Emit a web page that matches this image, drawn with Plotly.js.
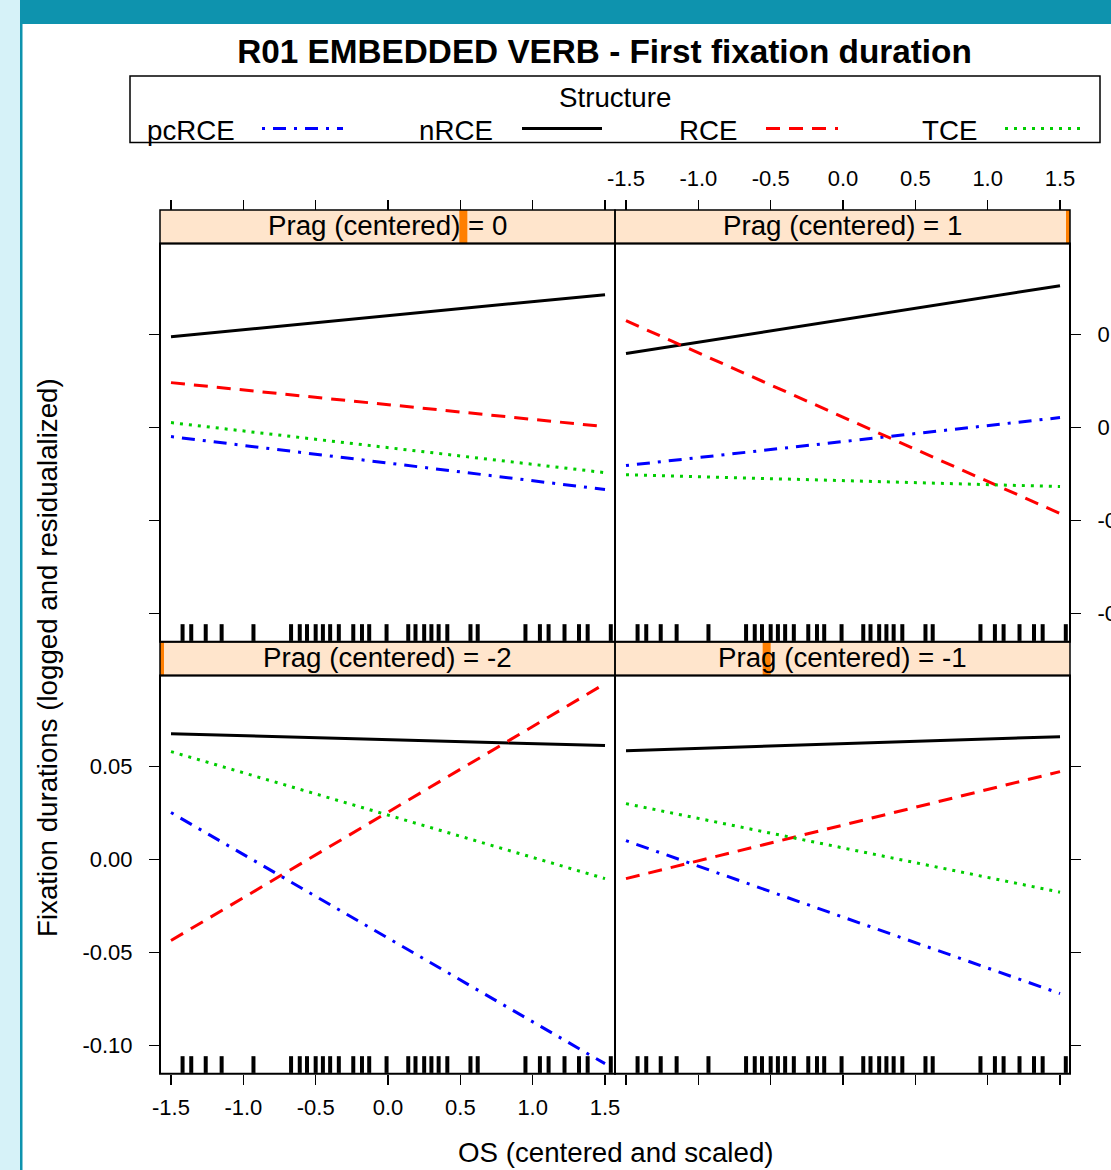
<!DOCTYPE html>
<html>
<head>
<meta charset="utf-8">
<script src="https://cdn.plot.ly/plotly-3.0.1.min.js"></script>
<style>
  html, body { margin: 0; padding: 0; background: #ffffff; overflow: hidden; }
  #chart { width: 1111px; height: 1170px; }
</style>
</head>
<body>
<div id="chart"></div>
<script>
// ---------------- DATA ----------------
const OS_ENDS = [-1.5, 1.5];                       // x at which fitted lines start/end
const STRUCTURES = ['pcRCE', 'nRCE', 'RCE', 'TCE'];
const PRAG_LEVELS = [0, 1, -2, -1];                // panels: top-left, top-right, bottom-left, bottom-right
const PRAG_MIN = -2, PRAG_MAX = 1;

// fitted values [at OS=-1.5, at OS=1.5] for each panel (same order as PRAG_LEVELS)
const pcRCE_fit = [[-0.0048, -0.0333], [-0.0204, 0.0054], [0.0253, -0.1097], [0.0102, -0.0720]];
const nRCE_fit  = [[ 0.0489,  0.0715], [ 0.0398, 0.0763], [0.0677,  0.0613], [0.0586,  0.0661]];
const RCE_fit   = [[ 0.0242,  0.0005], [ 0.0575, -0.0462], [-0.0435, 0.0946], [-0.0102, 0.0473]];
const TCE_fit   = [[ 0.0027, -0.0242], [-0.0253, -0.0317], [0.0581, -0.0102], [0.0301, -0.0175]];

// observed OS values (rug)
const OS_RUG = [-1.42, -1.36, -1.26, -1.15, -0.93, -0.67, -0.61, -0.56, -0.50, -0.45, -0.40, -0.34,
                -0.24, -0.18, -0.13, -0.01, 0.14, 0.19, 0.25, 0.30, 0.35, 0.41, 0.57, 0.62,
                0.95, 1.05, 1.11, 1.22, 1.32, 1.38, 1.54];

const X_TICKS = [-1.5, -1.0, -0.5, 0.0, 0.5, 1.0, 1.5];
const X_TICK_LABELS = ['-1.5', '-1.0', '-0.5', '0.0', '0.5', '1.0', '1.5'];
const Y_TICKS = [-0.10, -0.05, 0.00, 0.05];
const Y_TICK_LABELS = ['-0.10', '-0.05', '0.00', '0.05'];

const TITLE = 'R01 EMBEDDED VERB - First fixation duration';
const X_TITLE = 'OS (centered and scaled)';
const Y_TITLE = 'Fixation durations (logged and residualalized)';
const LEGEND_TITLE = 'Structure';
const STRIP_LABEL = 'Prag (centered)';

// ---------------- STYLE / LAYOUT ----------------
const FITS = [pcRCE_fit, nRCE_fit, RCE_fit, TCE_fit];
const STYLE = [
  {color: '#0000FF', dash: '3px,8px,13px,8px'},
  {color: '#000000', dash: 'solid'},
  {color: '#FF0000', dash: '14px,9px'},
  {color: '#00CD00', dash: '3px,6px'}
];
const FONT = 'Liberation Sans, Arial, Helvetica, sans-serif';
const TXT = 27.7;
const W = 1111, H = 1170;
const px = v => v / W;
const py = v => 1 - v / H;

const COLS = [{x0: 160, x1: 615}, {x0: 615, x1: 1070}];
const ROWS = [{s0: 210, top: 243.5, bot: 641.7}, {s0: 641.7, top: 675.5, bot: 1073.7}];
const PANELS = [{r: 0, c: 0}, {r: 0, c: 1}, {r: 1, c: 0}, {r: 1, c: 1}];
const SUF = ['', '2', '3', '4'];
const XRANGE = [-1.576, 1.569];
const YRANGE = [-0.1151, 0.0990];

const traces = [];
PANELS.forEach((p, i) => {
  FITS.forEach((fit, k) => {
    traces.push({
      type: 'scatter', mode: 'lines',
      x: OS_ENDS, y: fit[i],
      xaxis: 'x' + SUF[i], yaxis: 'y' + SUF[i],
      name: STRUCTURES[k], showlegend: false, hoverinfo: 'skip',
      line: {color: STYLE[k].color, width: 3, dash: STYLE[k].dash}
    });
  });
});

const layout = {
  width: W, height: H,
  margin: {l: 0, r: 0, t: 0, b: 0},
  paper_bgcolor: '#ffffff', plot_bgcolor: 'rgba(0,0,0,0)',
  showlegend: false,
  font: {family: FONT, color: '#000000', size: 22},
  title: {text: '<b>' + TITLE + '</b>', font: {family: FONT, size: 33.3, color: '#000'},
          x: px(604.5), xref: 'paper', xanchor: 'center', y: py(51), yref: 'paper', yanchor: 'middle'},
  shapes: [], annotations: []
};

const tickFont = {family: FONT, size: 22, color: '#000'};
PANELS.forEach((p, i) => {
  const s = SUF[i];
  const col = COLS[p.c], row = ROWS[p.r];
  const xa = {
    domain: [px(col.x0), px(col.x1)], range: XRANGE,
    tickmode: 'array', tickvals: X_TICKS, ticktext: X_TICK_LABELS,
    ticks: 'outside', ticklen: 10, tickwidth: 1.5, tickcolor: '#000',
    showgrid: false, zeroline: false, showline: false, tickfont: tickFont,
    fixedrange: true
  };
  if (p.r === 0) {
    xa.anchor = 'free'; xa.position = py(row.s0); xa.side = 'top';
    xa.showticklabels = (p.c === 1);
    xa.ticklabelstandoff = 5;
  } else {
    xa.anchor = 'y' + s; xa.side = 'bottom';
    xa.showticklabels = (p.c === 0);
    xa.ticklabelstandoff = 4;
  }
  const ya = {
    domain: [py(row.bot), py(row.top)], range: YRANGE, anchor: 'x' + s,
    side: p.c === 0 ? 'left' : 'right',
    tickmode: 'array', tickvals: Y_TICKS, ticktext: Y_TICK_LABELS,
    ticks: 'outside', ticklen: 10, tickwidth: 1.5, tickcolor: '#000',
    showgrid: false, zeroline: false, showline: false, tickfont: tickFont,
    showticklabels: (p.r === 1 && p.c === 0) || (p.r === 0 && p.c === 1),
    ticklabelstandoff: 12,
    fixedrange: true
  };
  layout['xaxis' + s] = xa;
  layout['yaxis' + s] = ya;
});

// page frame
layout.shapes.push(
  {type: 'rect', xref: 'paper', yref: 'paper', x0: 0, x1: px(20), y0: 0, y1: 1, fillcolor: '#d6f2f8', line: {width: 0}, layer: 'below'},
  {type: 'rect', xref: 'paper', yref: 'paper', x0: px(20), x1: 1, y0: py(24), y1: 1, fillcolor: '#0e93ae', line: {width: 0}, layer: 'below'},
  {type: 'rect', xref: 'paper', yref: 'paper', x0: px(20), x1: px(22.5), y0: 0, y1: 1, fillcolor: '#0e93ae', line: {width: 0}, layer: 'below'}
);

// strips, level markers, panel borders, rugs
PANELS.forEach((p, i) => {
  const s = SUF[i];
  const col = COLS[p.c], row = ROWS[p.r];
  layout.shapes.push({type: 'rect', xref: 'paper', yref: 'paper', x0: px(col.x0), x1: px(col.x1),
    y0: py(row.top), y1: py(row.s0), fillcolor: '#FFE5CC', line: {width: 0}, layer: 'below'});
  const frac = (PRAG_LEVELS[i] - PRAG_MIN) / (PRAG_MAX - PRAG_MIN);
  const cx = col.x0 + frac * (col.x1 - col.x0);
  const mx0 = Math.max(col.x0, cx - 4), mx1 = Math.min(col.x1, cx + 4);
  layout.shapes.push({type: 'rect', xref: 'paper', yref: 'paper', x0: px(mx0), x1: px(mx1),
    y0: py(row.top), y1: py(row.s0), fillcolor: '#FF7F00', line: {width: 0}, layer: 'below'});
  layout.shapes.push({type: 'rect', xref: 'paper', yref: 'paper', x0: px(col.x0), x1: px(col.x1),
    y0: py(row.top), y1: py(row.s0), fillcolor: 'rgba(0,0,0,0)', line: {width: 1.5, color: '#000'}});
  layout.shapes.push({type: 'rect', xref: 'paper', yref: 'paper', x0: px(col.x0), x1: px(col.x1),
    y0: py(row.bot), y1: py(row.top), fillcolor: 'rgba(0,0,0,0)', line: {width: 2, color: '#000'}});
  layout.annotations.push({xref: 'paper', yref: 'paper', x: px((col.x0 + col.x1) / 2), y: py((row.s0 + row.top) / 2 - 1),
    text: STRIP_LABEL + ' = ' + PRAG_LEVELS[i], showarrow: false, xanchor: 'center', yanchor: 'middle',
    font: {family: FONT, size: TXT, color: '#000'}});
  OS_RUG.forEach(v => {
    layout.shapes.push({type: 'line', xref: 'x' + s, yref: 'y' + s + ' domain', x0: v, x1: v, y0: 0.002, y1: 0.044,
      line: {width: 4, color: '#000'}});
  });
});

// axis titles
layout.annotations.push(
  {xref: 'paper', yref: 'paper', x: px(615.5), y: py(1152), text: X_TITLE, showarrow: false,
   xanchor: 'center', yanchor: 'middle', font: {family: FONT, size: TXT, color: '#000'}},
  {xref: 'paper', yref: 'paper', x: px(47), y: py(658), text: Y_TITLE, showarrow: false, textangle: -90,
   xanchor: 'center', yanchor: 'middle', font: {family: FONT, size: TXT, color: '#000'}}
);

// key (legend) box
layout.shapes.push({type: 'rect', xref: 'paper', yref: 'paper', x0: px(130), x1: px(1100), y0: py(142.5), y1: py(76),
  fillcolor: 'rgba(0,0,0,0)', line: {width: 1.5, color: '#000'}});
layout.annotations.push({xref: 'paper', yref: 'paper', x: px(615), y: py(97), text: LEGEND_TITLE, showarrow: false,
  xanchor: 'center', yanchor: 'middle', font: {family: FONT, size: TXT, color: '#000'}});
const KEY_TEXT_X = [145, 417, 677, 920];
const KEY_LINE_X = [[262, 343], [522, 602], [766, 838], [1005, 1082]];
STRUCTURES.forEach((name, k) => {
  layout.annotations.push({xref: 'paper', yref: 'paper', x: px(KEY_TEXT_X[k]), y: py(130), text: name, showarrow: false,
    xanchor: 'left', yanchor: 'middle', font: {family: FONT, size: TXT, color: '#000'}});
  layout.shapes.push({type: 'line', xref: 'paper', yref: 'paper', x0: px(KEY_LINE_X[k][0]), x1: px(KEY_LINE_X[k][1]),
    y0: py(128.5), y1: py(128.5), line: {width: 3, color: STYLE[k].color, dash: STYLE[k].dash}});
});

Plotly.newPlot('chart', traces, layout, {displayModeBar: false, staticPlot: true});
</script>
</body>
</html>
